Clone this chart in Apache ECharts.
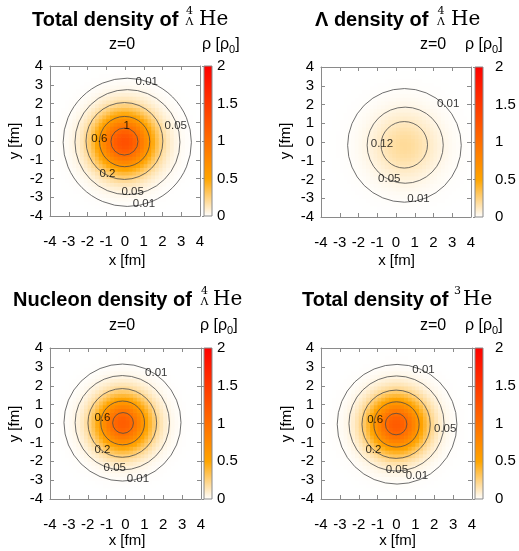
<!DOCTYPE html>
<html><head><meta charset="utf-8">
<script src="https://cdn.jsdelivr.net/npm/echarts@6/dist/echarts.min.js"></script>
<style>html,body{margin:0;padding:0;background:#fff}#c{width:519px;height:551px}</style>
</head><body><div id="c"></div>
<script>
// ---------- data ----------
// radial sample positions (fm) of the density profiles
const profileR = [0,0.25,0.5,0.75,1,1.25,1.5,1.75,2,2.25,2.5,2.75,3,3.25,3.5,3.75,4,4.5,5,6];
// densities (rho_0 units) at those radii
const rhoTotal4LHe   = [1.28,1.25,1.15,1.00,0.83,0.65,0.49,0.34,0.23,0.145,0.087,0.050,0.027,0.0137,0.0066,0.003,0.0013,0.0002,0,0];
const rhoLambda4LHe  = [0.200,0.196,0.184,0.166,0.144,0.119,0.095,0.073,0.053,0.038,0.025,0.0165,0.0103,0.0061,0.0035,0.002,0.001,0.0003,0.0001,0];
const rhoNucleon4LHe = [1.16,1.124,1.024,0.876,0.704,0.531,0.377,0.251,0.157,0.092,0.051,0.026,0.0129,0.0059,0.0025,0.001,0.0004,0.0001,0,0];
const rhoTotal3He    = [1.18,1.146,1.049,0.906,0.737,0.566,0.410,0.280,0.180,0.109,0.0626,0.0338,0.0172,0.0082,0.0037,0.0015,0.0006,0.0001,0,0];
// density centres (x, y) in fm
const centerTotal4LHe = [-0.03,-0.03];
const centerLambda4LHe = [0.45,-0.17];
const centerNucleon4LHe = [-0.15,0.03];
const centerTotal3He = [0.0,-0.04];

// contour circles: level, radius (fm), centre x, centre y
const contourLevels1 = [0.01,0.05,0.2,0.6,1];
const contourRadii1  = [3.42,2.80,2.05,1.34,0.72];
const contourCx1     = [0.12,0.13,-0.03,-0.02,-0.03];
const contourCy1     = [-0.07,-0.06,0.0,-0.03,-0.03];
const contourLevels2 = [0.01,0.05,0.12];
const contourRadii2  = [3.03,2.03,1.24];
const contourCx2     = [0.45,0.49,0.44];
const contourCy2     = [-0.18,-0.17,-0.15];
const contourLevels3 = [0.01,0.05,0.2,0.6,1];
const contourRadii3  = [3.10,2.50,1.82,1.16,0.55];
const contourCx3     = [-0.16,-0.17,-0.17,-0.15,-0.13];
const contourCy3     = [0.05,0.04,0.03,0.03,0.03];
const contourLevels4 = [0.01,0.05,0.2,0.6,1];
const contourRadii4  = [3.17,2.52,1.81,1.20,0.57];
const contourCx4     = [0.03,0.0,-0.02,0.0,-0.02];
const contourCy4     = [-0.04,0.0,-0.04,-0.05,-0.03];

// contour label positions (fm) and texts
const labelX1 = [1.16,2.71,0.09,-1.37,-0.94,0.41,1.01];
const labelY1 = [3.16,0.80,0.80,0.14,-1.76,-2.70,-3.33];
const labelT1 = ['0.01','0.05','1','0.6','0.2','0.05','0.01'];
const labelX2 = [2.78,-0.75,-0.36,1.20];
const labelY2 = [2.02,-0.12,-1.94,-3.05];
const labelT2 = ['0.01','0.12','0.05','0.01'];
const labelX3 = [1.63,-1.22,-1.22,-0.57,0.66];
const labelY3 = [2.68,0.32,-1.41,-2.35,-2.95];
const labelT3 = ['0.01','0.6','0.2','0.05','0.01'];
const labelX4 = [1.43,-1.13,2.58,-1.22,0.02,1.08];
const labelY4 = [2.86,0.21,-0.30,-1.42,-2.48,-2.78];
const labelT4 = ['0.01','0.6','0.05','0.2','0.05','0.01'];

// axis ticks
const xyMin = -4, xyMax = 4, xyInterval = 1;
const cbMin = 0, cbMax = 2, cbInterval = 0.5;
const paletteColors = ['#ffffff','#ffa500','#ff6e00','#ff3700','#ff0000'];

// ---------- build ----------
const CELL = 0.2;
function sampleProfile(profile, r) {
  const n = profileR.length;
  if (r >= profileR[n-1]) return profile[n-1];
  let i = 0;
  while (profileR[i+1] < r) i++;
  const t = (r - profileR[i]) / (profileR[i+1] - profileR[i]);
  return profile[i] + (profile[i+1] - profile[i]) * t;
}
function buildCells(profile, center) {
  const cells = [];
  const n = Math.round((xyMax - xyMin) / CELL);
  for (let ix = 0; ix < n; ix++) for (let iy = 0; iy < n; iy++) {
    const x = xyMin + CELL * (ix + 0.5), y = xyMin + CELL * (iy + 0.5);
    const r = Math.hypot(x - center[0], y - center[1]);
    cells.push([x, y, sampleProfile(profile, r)]);
  }
  return cells;
}
function zipContours(L, R, CX, CY) { return L.map((l, i) => [CX[i], CY[i], R[i], l]); }
function zipLabels(X, Y, T) { return X.map((x, i) => ({ value: [x, Y[i]], name: T[i] })); }

const panels = [
  { profile: rhoTotal4LHe, center: centerTotal4LHe, contours: zipContours(contourLevels1, contourRadii1, contourCx1, contourCy1), labels: zipLabels(labelX1, labelY1, labelT1),
    grid: {left:50, top:66, width:150, height:150}, cb: {left:204, top:66, width:8, height:150}, cbMargin: 5 },
  { profile: rhoLambda4LHe, center: centerLambda4LHe, contours: zipContours(contourLevels2, contourRadii2, contourCx2, contourCy2), labels: zipLabels(labelX2, labelY2, labelT2),
    grid: {left:321, top:67, width:150, height:150}, cb: {left:475, top:67, width:8, height:150}, cbMargin: 12 },
  { profile: rhoNucleon4LHe, center: centerNucleon4LHe, contours: zipContours(contourLevels3, contourRadii3, contourCx3, contourCy3), labels: zipLabels(labelX3, labelY3, labelT3),
    grid: {left:50, top:348, width:151, height:151}, cb: {left:204, top:348, width:8, height:151}, cbMargin: 5 },
  { profile: rhoTotal3He, center: centerTotal3He, contours: zipContours(contourLevels4, contourRadii4, contourCx4, contourCy4), labels: zipLabels(labelX4, labelY4, labelT4),
    grid: {left:321, top:348, width:151, height:151}, cb: {left:475, top:348, width:8, height:151}, cbMargin: 12 }
];

const FONT = '"Liberation Sans", Arial, sans-serif';
const BORDER = '#8a8a8a';
const TICKSIZE = 15;
const grids = [], xAxes = [], yAxes = [], series = [], heatIdx = [];

panels.forEach((p, k) => {
  const gP = grids.length; grids.push(p.grid);
  const gC = grids.length; grids.push(p.cb);
  const base = { type: 'value', min: xyMin, max: xyMax, interval: xyInterval, z: 5,
    axisLine: { show: true, onZero: false, lineStyle: { color: BORDER, width: 1 } },
    axisTick: { show: true, inside: true, length: 4, lineStyle: { color: BORDER } },
    splitLine: { show: false } };
  const xB = xAxes.length;
  xAxes.push(Object.assign({}, base, { gridIndex: gP, position: 'bottom',
    axisLabel: { margin: 18, fontSize: TICKSIZE, color: '#000', fontFamily: FONT } }));
  xAxes.push(Object.assign({}, base, { gridIndex: gP, position: 'top', axisLabel: { show: false } }));
  const xC = xAxes.length;
  xAxes.push({ type: 'value', gridIndex: gC, min: 0, max: 1, show: false });
  const yL = yAxes.length;
  yAxes.push(Object.assign({}, base, { gridIndex: gP, position: 'left',
    axisLabel: { margin: 7, fontSize: TICKSIZE, color: '#000', fontFamily: FONT } }));
  yAxes.push(Object.assign({}, base, { gridIndex: gP, position: 'right', axisLabel: { show: false } }));
  const yC = yAxes.length;
  yAxes.push({ type: 'value', gridIndex: gC, position: 'right', min: cbMin, max: cbMax, interval: cbInterval, z: 5,
    axisLine: { show: false }, splitLine: { show: false },
    axisTick: { show: true, inside: true, length: 2, lineStyle: { color: BORDER } },
    axisLabel: { margin: p.cbMargin, fontSize: TICKSIZE, color: '#000', fontFamily: FONT } });

  heatIdx.push(series.length);
  series.push({
    type: 'custom', coordinateSystem: 'cartesian2d', xAxisIndex: xB, yAxisIndex: yL, clip: true, silent: true,
    dimensions: ['x', 'y', 'rho'], encode: { x: 0, y: 1 },
    data: buildCells(p.profile, p.center),
    renderItem: (params, api) => {
      const x = api.value(0), y = api.value(1);
      const a = api.coord([x - CELL / 2, y + CELL / 2]);
      const b = api.coord([x + CELL / 2, y - CELL / 2]);
      return { type: 'rect', shape: { x: a[0], y: a[1], width: b[0] - a[0] + 0.7, height: b[1] - a[1] + 0.7 },
        style: { fill: api.visual('color') } };
    }
  });
  series.push({
    type: 'custom', coordinateSystem: 'cartesian2d', xAxisIndex: xB, yAxisIndex: yL, clip: true, silent: true, z: 3,
    encode: { x: 0, y: 1 },
    data: p.contours,
    renderItem: (params, api) => {
      const c = api.coord([api.value(0), api.value(1)]);
      const s = api.size([api.value(2), api.value(2)]);
      return { type: 'circle', shape: { cx: c[0], cy: c[1], r: (s[0] + s[1]) / 2 },
        style: { fill: 'none', stroke: '#4a4a4a', lineWidth: 0.8 } };
    }
  });
  series.push({
    type: 'scatter', xAxisIndex: xB, yAxisIndex: yL, symbolSize: 0, silent: true, z: 4,
    data: p.labels,
    label: { show: true, position: 'inside', formatter: '{b}', fontSize: 11.5, color: '#000', fontFamily: FONT }
  });
  series.push({
    type: 'custom', coordinateSystem: 'cartesian2d', xAxisIndex: xC, yAxisIndex: yC, silent: true,
    encode: { x: 0, y: 1 },
    data: [[0, cbMax, 1, cbMin]],
    renderItem: (params, api) => {
      const a = api.coord([api.value(0), api.value(1)]);
      const b = api.coord([api.value(2), api.value(3)]);
      const stops = paletteColors.map((c, i) => ({ offset: 1 - i / (paletteColors.length - 1), color: c }));
      return { type: 'rect', shape: { x: a[0], y: a[1], width: b[0] - a[0], height: b[1] - a[1] },
        style: { fill: new echarts.graphic.LinearGradient(0, 0, 0, 1, stops.reverse()), stroke: BORDER, lineWidth: 1 } };
    }
  });
});

// ---------- text ----------
function txt(x, y, text, font, align, extra) {
  return Object.assign({ type: 'text', x: x, y: y, silent: true,
    style: { text: text, font: font, fill: '#000', align: align || 'left', verticalAlign: 'middle' } }, extra || {});
}
const TITLE = 'bold 20px ' + FONT;
const SERIF = '20px "DejaVu Serif", serif';
const SMALLSERIF = '11px "DejaVu Serif", serif';
const LBL = '15px ' + FONT;
const ZLBL = '16px ' + FONT;
function rhoLabel(x, y) {
  return { type: 'text', x: x, y: y, silent: true,
    style: { text: '{a|ρ [ρ}{s|0}{a|]}', verticalAlign: 'middle', align: 'left',
      rich: { a: { fontSize: 16, fontFamily: FONT, lineHeight: 20, verticalAlign: 'middle' },
              s: { fontSize: 11, fontFamily: FONT, lineHeight: 20, verticalAlign: 'bottom' } } } };
}
const graphics = [
  txt(32, 20, 'Total density of', TITLE), txt(189.5, 11, '4', SMALLSERIF, 'center'), txt(189.5, 22.5, 'Λ', SMALLSERIF, 'center'), txt(199, 20, 'He', SERIF),
  txt(315, 20, 'Λ density of', TITLE), txt(441, 11, '4', SMALLSERIF, 'center'), txt(441, 22.5, 'Λ', SMALLSERIF, 'center'), txt(451, 20, 'He', SERIF),
  txt(13, 300, 'Nucleon density of', TITLE), txt(204.5, 291, '4', SMALLSERIF, 'center'), txt(204.5, 302.5, 'Λ', SMALLSERIF, 'center'), txt(213, 300, 'He', SERIF),
  txt(302, 300, 'Total density of', TITLE), txt(457.5, 291, '3', SMALLSERIF, 'center'), txt(463, 300, 'He', SERIF),
  txt(122, 45, 'z=0', ZLBL, 'center'), txt(433, 45, 'z=0', ZLBL, 'center'), txt(122, 326, 'z=0', ZLBL, 'center'), txt(433, 326, 'z=0', ZLBL, 'center'),
  rhoLabel(202, 45), rhoLabel(465, 45), rhoLabel(200, 326), rhoLabel(465, 326),
  txt(127, 261, 'x [fm]', LBL, 'center'), txt(396.5, 261, 'x [fm]', LBL, 'center'), txt(127, 541, 'x [fm]', LBL, 'center'), txt(397.5, 541, 'x [fm]', LBL, 'center'),
  txt(15, 141, 'y [fm]', LBL, 'center', { rotation: Math.PI / 2 }), txt(286, 141, 'y [fm]', LBL, 'center', { rotation: Math.PI / 2 }),
  txt(15, 424, 'y [fm]', LBL, 'center', { rotation: Math.PI / 2 }), txt(287, 424, 'y [fm]', LBL, 'center', { rotation: Math.PI / 2 })
];

const chart = echarts.init(document.getElementById('c'), null, { renderer: 'canvas' });
chart.setOption({
  backgroundColor: '#ffffff',
  animation: false,
  grid: grids,
  xAxis: xAxes,
  yAxis: yAxes,
  visualMap: { type: 'continuous', show: false, min: cbMin, max: cbMax, dimension: 2, seriesIndex: heatIdx,
    inRange: { color: paletteColors } },
  series: series,
  graphic: graphics
});
</script></body></html>
